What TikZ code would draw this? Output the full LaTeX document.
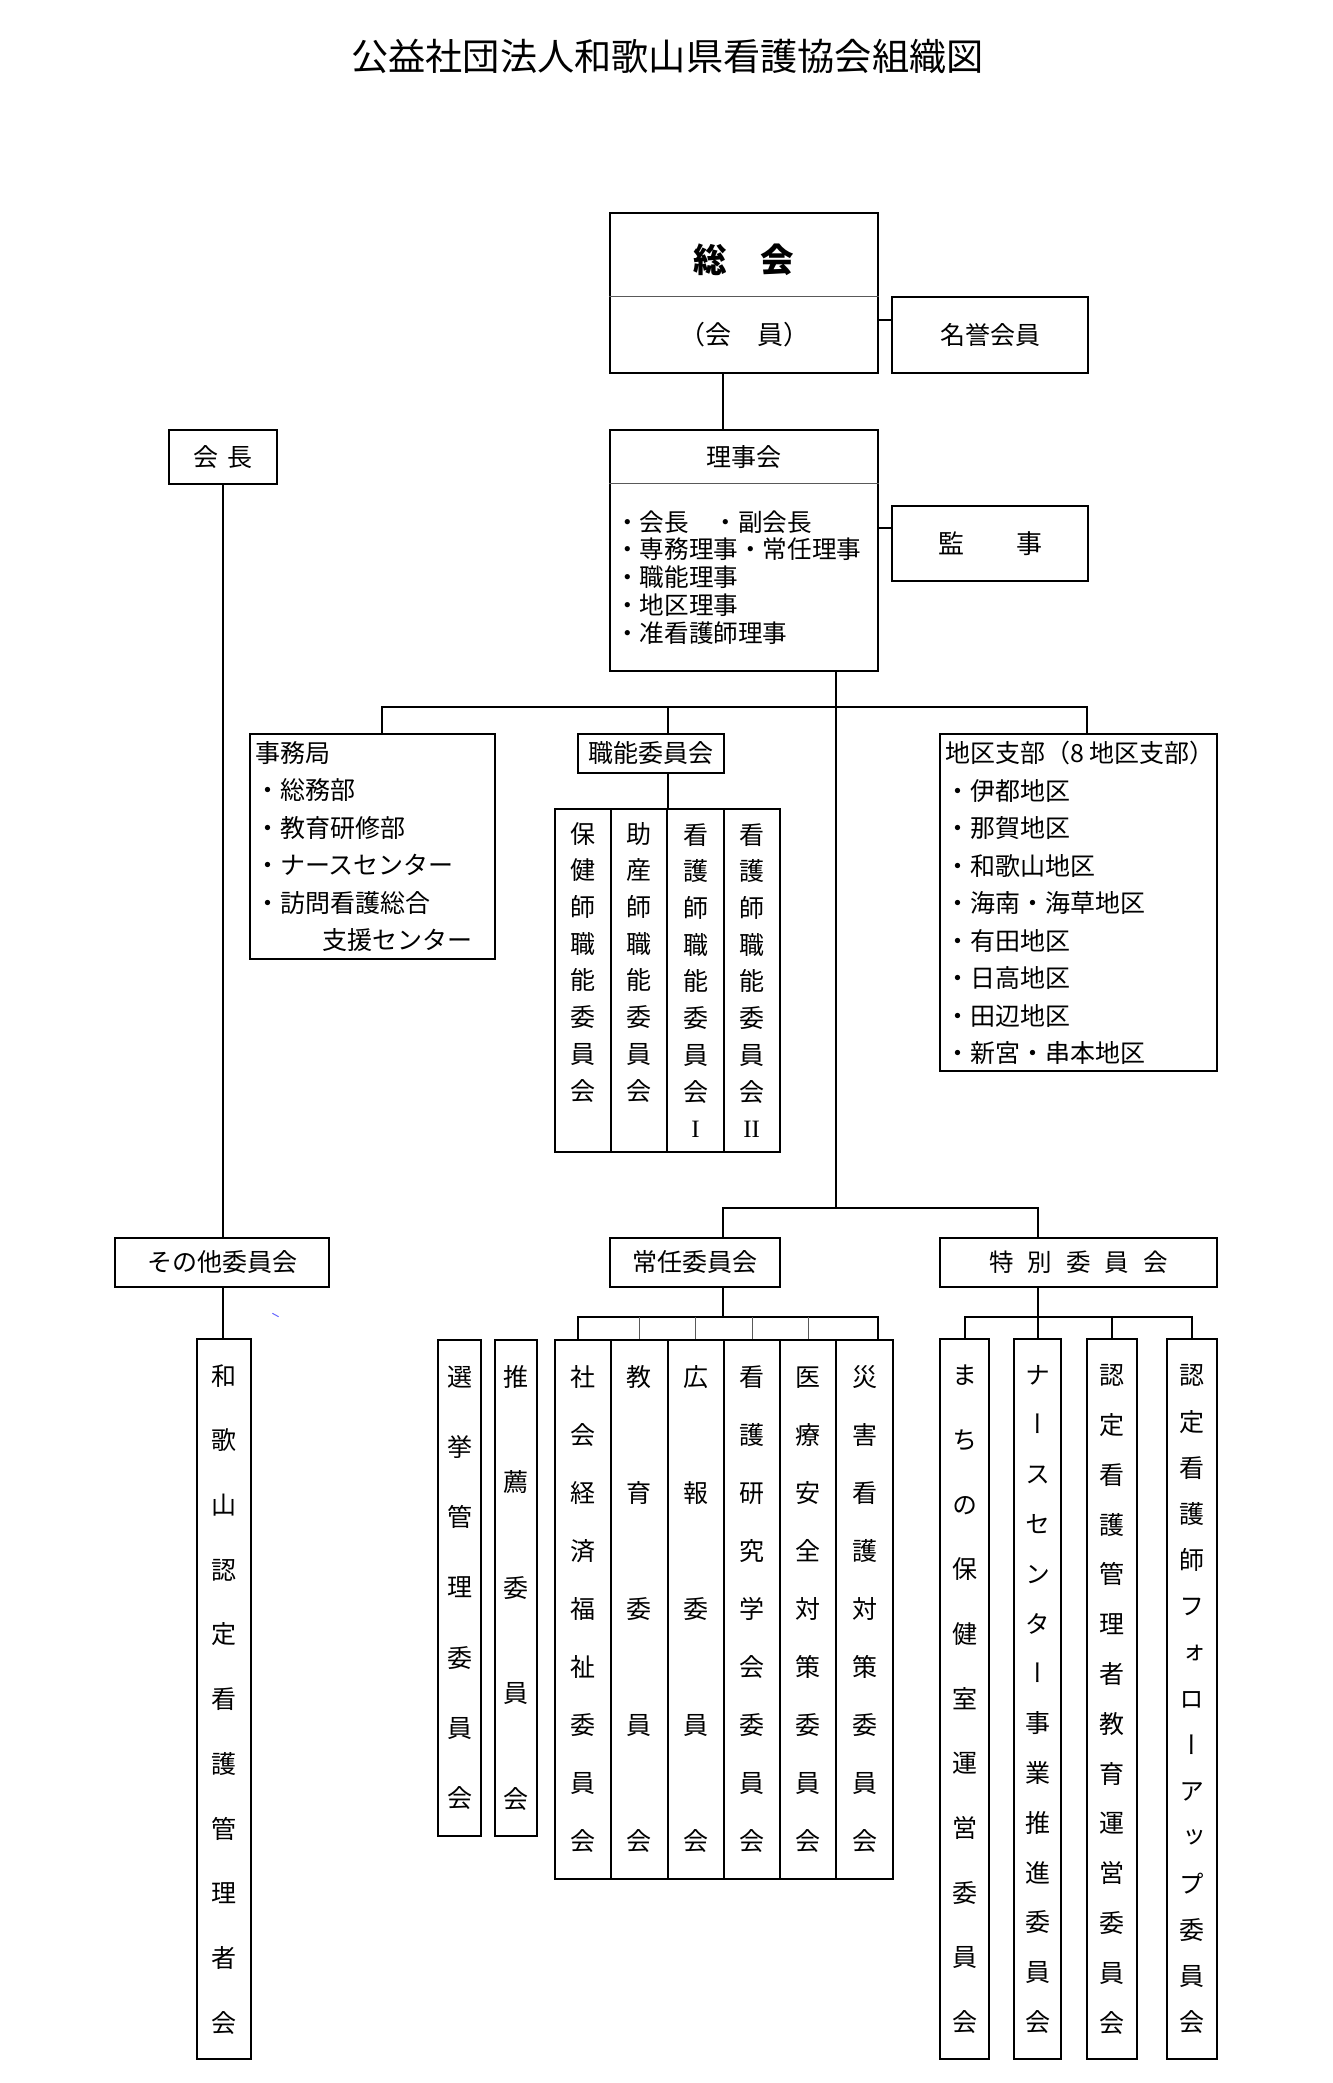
\documentclass[tikz,border=0pt]{standalone}
\usepackage{fontspec}
\setmainfont{Noto Sans CJK JP}
\newfontfamily\vjp[RawFeature=+vert]{Noto Sans CJK JP}
\newfontfamily\romnum{Liberation Serif}
\newcommand{\vtxt}[1]{\vjp\fontsize{25pt}{#1pt}\selectfont}
\newcommand{\bodytxt}[1]{\fontsize{25pt}{#1pt}\selectfont}

\begin{document}
\begin{tikzpicture}[x=1pt,y=-1pt,
    box/.style={draw,line width=2pt,inner sep=0pt},
    col/.style={box,align=center,minimum width=#1},
    col/.default=56.3pt,
    link/.style={line width=2pt},
    divider/.style={line width=1pt,black!65}]

        \fill[white] (0,0) rectangle (1333,2083);
        \useasboundingbox (0,0) rectangle (1333,2083);

        \node[font=\fontsize{37.2pt}{40pt}\selectfont] (title) at (667.5,56) {公益社団法人和歌山県看護協会組織図};

        \node[box,minimum width=268pt,minimum height=159.4pt] (sokai) at (744,293) {};
        \draw[divider] ([yshift=-83.7pt]sokai.north west) -- ([yshift=-83.7pt]sokai.north east);
        \node[font=\bfseries\fontsize{33.5pt}{34pt}\selectfont] (sokaitxt) at (744,260) {総　会};
        \node[font=\fontsize{26pt}{30pt}\selectfont] (kaiin) at (744,335) {（会　員）};
        \node[box,minimum width=196.6pt,minimum height=76pt,font=\bodytxt{30}] (meiyo) at (990,334.7) {名誉会員};

        \node[box,minimum width=268pt,minimum height=240.7pt] (riji) at (744,550.3) {};
        \draw[divider] ([yshift=-54.3pt]riji.north west) -- ([yshift=-54.3pt]riji.north east);
        \node[font=\bodytxt{30}] (rijitxt) at (744,457.5) {理事会};
        \node[anchor=west,align=left,inner sep=0pt,font=\fontsize{24.6pt}{27.9pt}\selectfont] (rijilist) at (615,577.5)
        {・会長　・副会長\\・専務理事・常任理事\\・職能理事\\・地区理事\\・准看護師理事};
        \node[box,minimum width=196.6pt,minimum height=75pt,font=\fontsize{26pt}{30pt}\selectfont] (kanji) at (990,543.5) {監　　事};

        \node[box,minimum width=108pt,minimum height=54.3pt,font=\bodytxt{30}] (kaicho) at (223,457.2) {会\hspace{0.33em}長};

        \node[box,minimum width=245pt,minimum height=224.7pt] (jimu) at (372.5,846.7) {};
        \node[anchor=west,align=left,inner sep=0pt,font=\bodytxt{37.4}] (jimulist) at (255,846.5)
        {事務局\\・総務部\\・教育研修部\\・ナースセンター\\・訪問看護総合\\\hspace*{66.8pt}支援センター};

        \node[box,minimum width=146.2pt,minimum height=38.4pt,font=\bodytxt{30}] (shokuno) at (650.6,753.5) {職能委員会};
        \foreach \t [count=\i] in {{保\\健\\師\\職\\能\\委\\員\\会\\\phantom{会}},
            {助\\産\\師\\職\\能\\委\\員\\会\\\phantom{会}},
            {看\\護\\師\\職\\能\\委\\員\\会\\{\romnum I}},
            {看\\護\\師\\職\\能\\委\\員\\会\\{\romnum II}}}{
            \node[col=56.2pt,minimum height=342.4pt,font=\vtxt{36.7}] (sk\i) at ({583.1+56.2*(\i-1)},980.5) {\t};
        }

        \node[box,minimum width=276.7pt,minimum height=336.4pt] (chiku) at (1078.3,902.5) {};
        \node[anchor=west,align=left,inner sep=0pt,font=\bodytxt{37.5}] (chikulist) at (945,903.3)
        {地区支部（8 地区支部）\\・伊都地区\\・那賀地区\\・和歌山地区\\・海南・海草地区\\・有田地区\\・日高地区\\・田辺地区\\・新宮・串本地区};

        \node[box,minimum width=213.3pt,minimum height=49.6pt,font=\bodytxt{30}] (sonota) at (222,1262.5) {その他委員会};
        \node[box,minimum width=169.9pt,minimum height=49.6pt,font=\bodytxt{30}] (jonin) at (695.2,1262.5) {常任委員会};
        \node[box,minimum width=276.7pt,minimum height=49.6pt,font=\fontsize{24.5pt}{30pt}\selectfont] (tokubetsu) at (1078.3,1262.5)
        {特\hspace{14pt}別\hspace{14pt}委\hspace{14pt}員\hspace{14pt}会};

        \node[col=53.5pt,minimum height=719.8pt,font=\vtxt{64.7}] (wakayama) at (223.75,1699.3) {和\\歌\\山\\認\\定\\看\\護\\管\\理\\者\\会};
        \node[col=43pt,minimum height=496.4pt,font=\vtxt{70.3}] (senkyo) at (459.8,1587.8) {選\\挙\\管\\理\\委\\員\\会};
        \node[col=42.5pt,minimum height=496.4pt,font=\vtxt{105.4}] (suisen) at (516.2,1587.8) {推\\薦\\委\\員\\会};

        \foreach \t/\s [count=\i] in {{社\\会\\経\\済\\福\\祉\\委\\員\\会}/58,
            {教\\育\\委\\員\\会}/116,
            {広\\報\\委\\員\\会}/116,
            {看\\護\\研\\究\\学\\会\\委\\員\\会}/58,
            {医\\療\\安\\全\\対\\策\\委\\員\\会}/58,
            {災\\害\\看\\護\\対\\策\\委\\員\\会}/58}{
            \node[col,minimum height=539.4pt,font=\vtxt{\s}] (jo\i) at ({583.1+56.3*(\i-1)},1609.3) {\t};
        }

        \foreach \t/\s/\x/\w [count=\i] in {{ま\\ち\\の\\保\\健\\室\\運\\営\\委\\員\\会}/64.7/964.7/49.3,
            {ナ\\ー\\ス\\セ\\ン\\タ\\ー\\事\\業\\推\\進\\委\\員\\会}/49.8/1037.5/46.4,
            {認\\定\\看\\護\\管\\理\\者\\教\\育\\運\\営\\委\\員\\会}/49.8/1112/50.6,
            {認\\定\\看\\護\\師\\フ\\ォ\\ロ\\ー\\ア\\ッ\\プ\\委\\員\\会}/46.2/1191.7/50}{
            \node[col=\w pt,minimum height=719.8pt,font=\vtxt{\s}] (sp\i) at (\x,1699.3) {\t};
        }

        \coordinate (sokaiout) at ([xshift=-20.7pt]sokai.south);
        \draw[link] (sokaiout) -- (sokaiout |- riji.north);
        \coordinate (meiyoin) at ([yshift=14.7pt]meiyo.west);
        \draw[link] (meiyoin) -- (meiyoin -| sokai.east);
        \coordinate (kanjiin) at ([yshift=15.2pt]kanji.west);
        \draw[link] (kanjiin) -- (kanjiin -| riji.east);

        \coordinate (bus1) at (836.2,707.3);
        \coordinate (bus2) at (836.2,1207.7);
        \draw[link] ([xshift=92.2pt]riji.south) -- (bus2);
        \draw[link] ([xshift=9.5pt]jimu.north) |- (bus1) -| ([xshift=9pt]chiku.north);
        \draw[link] (sk2.north east |- shokuno.north) -- (sk2.north east |- bus1);
        \draw[link] (sk2.north east |- shokuno.south) -- (sk2.north east);

        \draw[link] (kaicho.south) -- (kaicho.south |- sonota.north);
        \draw[link] (sonota.south -| kaicho.south) -- (wakayama.north -| kaicho.south);

        \coordinate (jobus) at (723.3,1316.7);
        \coordinate (spbus) at (1037.5,1316.7);
        \draw[link] (jonin.north -| jobus) |- (bus2) -| (tokubetsu.north -| spbus);
        \draw[link] (jonin.south -| jobus) -- (jobus);
        \coordinate (joL) at ([xshift=-5pt]jo1.north);
        \coordinate (joR) at ([xshift=13pt]jo6.north);
        \draw[link] (joL) |- (jobus) -| (joR);
        \foreach \i in {2,...,5}
            \draw[divider] (jo\i.north) -- (jo\i.north |- jobus);

        \draw[link] (tokubetsu.south -| sp2.north) -- (sp2.north);
        \draw[link] (sp1.north) |- (spbus) -| (sp4.north);
        \draw[link] (sp3.north) -- (sp3.north |- spbus);

        \draw[blue!60,line width=1pt] (272.4,1313.3) -- (278.6,1316.7);

\end{tikzpicture}
\end{document}
